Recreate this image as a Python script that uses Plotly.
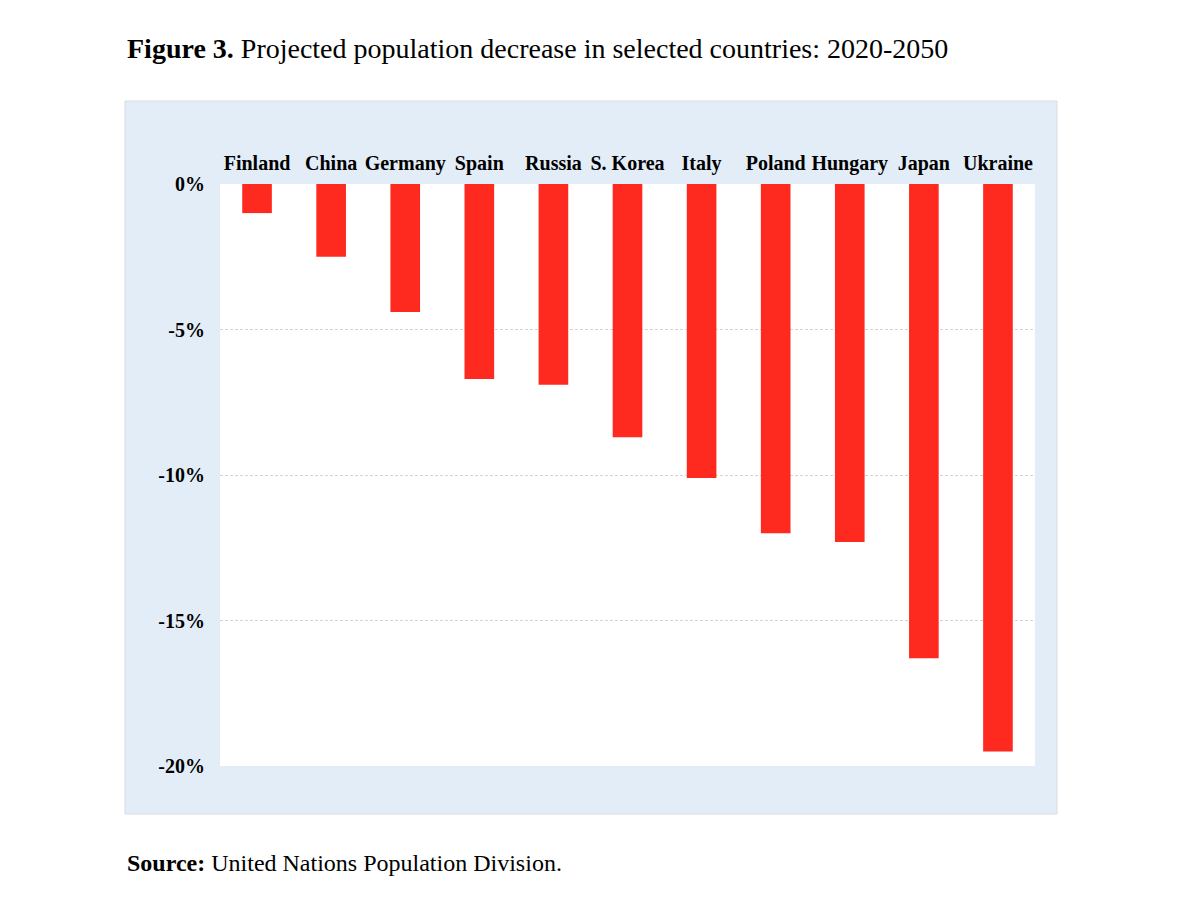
import plotly.graph_objects as go

# данные
countries = ['Finland', 'China', 'Germany', 'Spain', 'Russia', 'S. Korea', 'Italy',
             'Poland', 'Hungary', 'Japan', 'Ukraine']
decrease = [-1.0, -2.5, -4.4, -6.7, -6.9, -8.7, -10.1, -12.0, -12.3, -16.3, -19.5]
y_ticks = [0, -5, -10, -15, -20]
y_tick_labels = ['0%', '-5%', '-10%', '-15%', '-20%']

serif = 'Liberation Serif, Times New Roman, serif'

fig = go.Figure(go.Bar(x=countries, y=decrease, marker_color='#ff2a1f',
                       marker_line_width=0, width=0.4))

# голубая подложка вокруг области графика, поверх неё белое поле
fig.add_shape(type='rect', xref='paper', yref='paper', x0=-0.1166, x1=1.027, y0=-0.0825, y1=1.1426,
              fillcolor='#e3edf7', line=dict(color='#d8dde3', width=1), layer='below')
fig.add_shape(type='rect', xref='paper', yref='paper', x0=0, x1=1, y0=0, y1=1,
              fillcolor='white', line_width=0, layer='below')

fig.add_annotation(text='<b>Figure 3.</b> Projected population decrease in selected countries: 2020-2050',
                   xref='paper', yref='paper', x=-0.1166, y=1.232, xanchor='left', yanchor='middle',
                   showarrow=False, font=dict(family=serif, size=28, color='black'))
fig.add_annotation(text='<b>Source:</b> United Nations Population Division.',
                   xref='paper', yref='paper', x=-0.1166, y=-0.167, xanchor='left', yanchor='middle',
                   showarrow=False, font=dict(family=serif, size=24, color='black'))

fig.update_layout(width=1200, height=921, margin=dict(l=212, r=173, t=176, b=163),
                  paper_bgcolor='white', plot_bgcolor='white', showlegend=False,
                  font=dict(family=serif, color='black'))
fig.update_xaxes(side='top', showgrid=False, showline=False, zeroline=False,
                 tickfont=dict(family=serif, size=20, color='black', weight='bold'),
                 ticklabelstandoff=9, ticks='')
fig.update_yaxes(range=[-20, 0], tickvals=y_ticks, ticktext=y_tick_labels,
                 showgrid=True, gridcolor='#d4d4d4', griddash='3px,2px', gridwidth=1,
                 zeroline=False, showline=False, ticks='', ticklabelstandoff=14,
                 tickfont=dict(family=serif, size=20, color='black', weight='bold'))

fig.write_html('out.html')
